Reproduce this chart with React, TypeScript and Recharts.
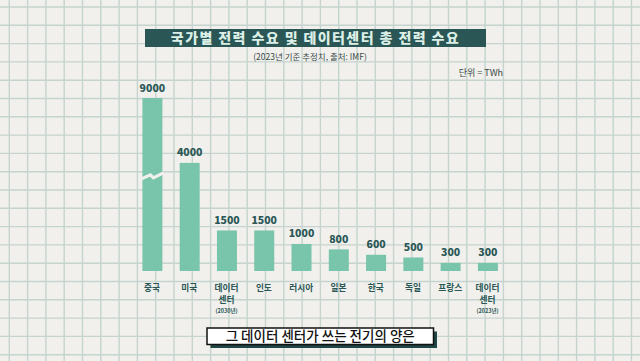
import React from 'react';
import { BarChart, Bar, XAxis, YAxis, LabelList } from 'recharts';

const categories = ['중국', '미국', '데이터센터 2030', '인도', '러시아', '일본', '한국', '독일', '프랑스', '데이터센터 2023'];
const tickMain = [['중국'], ['미국'], ['데이터', '센터'], ['인도'], ['러시아'], ['일본'], ['한국'], ['독일'], ['프랑스'], ['데이터', '센터']];
const tickSub = ['', '', '(2030년)', '', '', '', '', '', '', '(2023년)'];
const values = [9000, 4000, 1500, 1500, 1000, 800, 600, 500, 300, 300];

const TITLE = '국가별 전력 수요 및 데이터센터 총 전력 수요';
const SUBTITLE = '(2023년 기준 추정치, 출처: IMF)';
const UNIT = '단위 = TWh';
const CAPTION = '그 데이터 센터가 쓰는 전기의 양은';

const Y_MAX = 6400;

const data = categories.map((c, i) => ({ name: c, value: values[i], idx: i }));

const W = 640;
const H = 361;
const PLOT_TOP = 98;
const FONT = '"Noto Sans CJK KR", "Noto Sans", sans-serif';
const PAPER = '#f1f0ec';
const GRID = '#c5d4cf';
const BAR = '#79c5ab';
const TEAL = '#2a5756';

const Background = () => {
  const step = 18.3;
  const vs: number[] = [];
  for (let x = 9.3; x < W; x += step) vs.push(x);
  const hs: number[] = [];
  for (let y = 7; y < H; y += step) hs.push(y);
  return (
    <svg width={W} height={H} style={{ position: 'absolute', left: 0, top: 0 }}>
      <rect x={0} y={0} width={W} height={H} fill={PAPER} />
      {vs.map((x) => (
        <line key={'v' + x} x1={x} x2={x} y1={0} y2={H} stroke={GRID} strokeWidth={1.4} />
      ))}
      {hs.map((y) => (
        <line key={'h' + y} x1={0} x2={W} y1={y} y2={y} stroke={GRID} strokeWidth={1.4} />
      ))}
      <rect x={145} y={29} width={341} height={18} fill={TEAL} />
      <text x={315.5} y={43} textAnchor="middle" fontFamily={FONT} fontWeight={900} fontSize={14} letterSpacing={1.4} fill="#dcefe6">
        {TITLE}
      </text>
      <text x={310} y={60} textAnchor="middle" fontFamily={FONT} fontSize={8.5} fill="#3b4b4a">
        {SUBTITLE}
      </text>
      <text x={503} y={76} textAnchor="end" fontFamily={FONT} fontSize={9} fill="#3b4b4a">
        {UNIT}
      </text>
      <rect x={210.5} y={331.5} width={226.5} height={16.5} fill="#1f4645" />
      <rect x={207} y={328} width={226.5} height={16.5} fill="#ffffff" stroke="#111" strokeWidth={1.5} />
      <text x={320.2} y={341.2} textAnchor="middle" fontFamily={FONT} fontWeight={500} fontSize={13.5} fill="#111">
        {CAPTION}
      </text>
    </svg>
  );
};

const BarShape = (props: any) => {
  const { x, y, width, height } = props;
  const bottom = y + height;
  const top = Math.max(y, PLOT_TOP);
  const broken = y < PLOT_TOP - 0.5;
  const by = top + 0.45 * (bottom - top);
  return (
    <g>
      <rect x={x} y={top} width={width} height={bottom - top} fill={BAR} />
      {broken ? (
        <path
          d={`M${x - 1},${by + 3} L${x + width * 0.4},${by - 1} L${x + width * 0.55},${by + 2} L${x + width + 1},${by - 3}`}
          stroke={PAPER}
          strokeWidth={3.2}
          fill="none"
        />
      ) : null}
    </g>
  );
};

const ValueLabel = (props: any) => {
  const vb = props.viewBox || props;
  const x = vb.x;
  const y = vb.y;
  const w = vb.width;
  const h = vb.height;
  const top = Math.min(y, y + h);
  return (
    <text x={x + w / 2} y={Math.max(top, PLOT_TOP) - 6.5} textAnchor="middle" fontFamily={FONT} fontWeight={800} fontSize={10.5} fill={TEAL}>
      {props.value}
    </text>
  );
};

const Tick = (props: any) => {
  const { x, y, payload } = props;
  const i = payload.index;
  const lines = tickMain[i];
  return (
    <g>
      {lines.map((l, k) => (
        <text key={k} x={x} y={y + 19.5 + k * 12.6} textAnchor="middle" fontFamily={FONT} fontWeight={700} fontSize={8.7} fill={TEAL}>
          {l}
        </text>
      ))}
      {tickSub[i] ? (
        <text x={x} y={y + 41.5} textAnchor="middle" fontFamily={FONT} fontWeight={700} fontSize={5.5} fill={TEAL}>
          {tickSub[i]}
        </text>
      ) : null}
    </g>
  );
};

export default function App() {
  return (
    <div style={{ position: 'absolute', left: 0, top: 0, width: W, height: H, overflow: 'hidden' }}>
      <Background />
      <div style={{ position: 'absolute', left: 0, top: 0 }}>
        <BarChart width={W} height={H} data={data} margin={{ top: PLOT_TOP, right: 133.8, bottom: 30, left: 133.4 }}>
          <XAxis dataKey="name" axisLine={false} tickLine={false} tickSize={0} tickMargin={0} height={60} interval={0} tick={<Tick />} />
          <YAxis hide domain={[0, Y_MAX]} allowDataOverflow />
          <Bar dataKey="value" barSize={20} isAnimationActive={false} shape={<BarShape />}>
            <LabelList dataKey="value" content={<ValueLabel />} />
          </Bar>
        </BarChart>
      </div>
    </div>
  );
}
